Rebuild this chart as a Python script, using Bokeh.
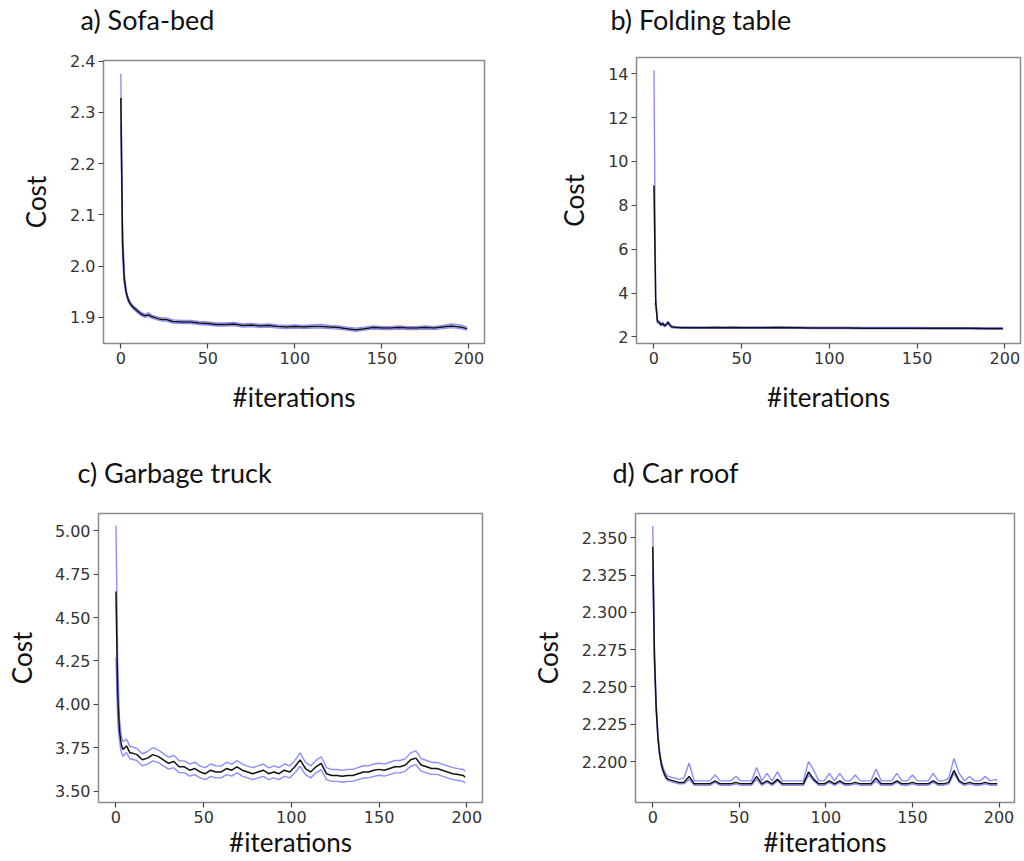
from bokeh.plotting import figure
from bokeh.models import Range1d, FixedTicker, NumeralTickFormatter
from bokeh.layouts import column, row
from bokeh.embed import file_html
from bokeh.resources import INLINE

# ---------------- data ----------------
titles = ["a) Sofa-bed", "b) Folding table", "c) Garbage truck", "d) Car roof"]
x_label = "#iterations"
y_label = "Cost"
x_ticks = [0, 50, 100, 150, 200]

# a) Sofa-bed
xa = [0, 1, 2, 3, 4, 5, 6, 7, 8, 9, 10,
      12, 14, 16, 18, 20, 22, 24, 26, 28, 30,
      35, 40, 45, 50, 55, 60, 65, 70, 75, 80,
      85, 90, 95, 100, 105, 110, 115, 120, 125, 130,
      135, 140, 145, 150, 155, 160, 165, 170, 175, 180,
      185, 190, 195, 199]
ma = [2.328, 2.045, 1.975, 1.950, 1.937, 1.929, 1.924, 1.920, 1.917, 1.914, 1.911,
      1.906, 1.903, 1.905, 1.901, 1.899, 1.897, 1.896, 1.896, 1.894, 1.892,
      1.891, 1.891, 1.889, 1.888, 1.886, 1.886, 1.887, 1.884, 1.885, 1.883,
      1.884, 1.882, 1.881, 1.882, 1.881, 1.882, 1.882, 1.881, 1.880, 1.878,
      1.876, 1.878, 1.880, 1.879, 1.879, 1.880, 1.879, 1.879, 1.880, 1.879,
      1.881, 1.883, 1.881, 1.878]
sa_hi = [0.047, 0.030, 0.012, 0.006, 0.004, 0.004, 0.003, 0.003, 0.003, 0.003, 0.003,
         0.003, 0.003, 0.004, 0.003, 0.003, 0.003, 0.003, 0.003, 0.003, 0.003,
         0.003, 0.003, 0.003, 0.003, 0.003, 0.003, 0.003, 0.003, 0.003, 0.003,
         0.003, 0.003, 0.003, 0.003, 0.003, 0.003, 0.004, 0.003, 0.003, 0.003,
         0.003, 0.003, 0.003, 0.003, 0.003, 0.003, 0.003, 0.003, 0.003, 0.003,
         0.003, 0.004, 0.004, 0.003]
sa_lo = [0.050, 0.030, 0.010, 0.005, 0.004, 0.003, 0.003, 0.003, 0.003, 0.003, 0.003,
         0.003, 0.003, 0.003, 0.003, 0.003, 0.003, 0.003, 0.003, 0.003, 0.003,
         0.003, 0.003, 0.003, 0.003, 0.003, 0.003, 0.003, 0.003, 0.003, 0.003,
         0.003, 0.003, 0.003, 0.003, 0.003, 0.003, 0.003, 0.003, 0.003, 0.003,
         0.003, 0.003, 0.003, 0.003, 0.003, 0.003, 0.003, 0.003, 0.003, 0.003,
         0.003, 0.003, 0.003, 0.003]

# b) Folding table
xb = [0, 1, 2, 3, 4, 5, 6, 7, 8, 9, 10,
      12, 14, 16, 18, 20,
      25, 30, 35, 40, 45, 50,
      60, 70, 80, 90, 100, 110, 120, 130, 140, 150, 160, 170, 180, 190,
      199]
mb = [8.90, 3.60, 2.70, 2.66, 2.55, 2.62, 2.50, 2.56, 2.66, 2.55, 2.46,
      2.44, 2.43, 2.42, 2.42, 2.42,
      2.42, 2.42, 2.43, 2.42, 2.43, 2.42,
      2.42, 2.43, 2.42, 2.41, 2.41, 2.41, 2.40, 2.40, 2.40, 2.40, 2.39, 2.39, 2.39, 2.38,
      2.38]
sb_hi = [5.25, 0.12, 0.08, 0.06, 0.06, 0.05, 0.05, 0.05, 0.06, 0.05, 0.04,
         0.03, 0.03, 0.03, 0.03, 0.03,
         0.03, 0.03, 0.03, 0.03, 0.03, 0.03,
         0.03, 0.03, 0.03, 0.03, 0.03, 0.03, 0.03, 0.03, 0.03, 0.03, 0.03, 0.03, 0.03, 0.03,
         0.03]
sb_lo = [5.40, 0.10, 0.06, 0.05, 0.05, 0.05, 0.04, 0.04, 0.05, 0.04, 0.04,
         0.03, 0.03, 0.03, 0.03, 0.03,
         0.03, 0.03, 0.03, 0.03, 0.03, 0.03,
         0.03, 0.03, 0.03, 0.03, 0.03, 0.03, 0.03, 0.03, 0.03, 0.03, 0.03, 0.03, 0.03, 0.03,
         0.03]

# c) Garbage truck and d) Car roof share the iteration sampling
xcd = [0, 1, 2, 3, 4, 5, 6, 7, 8, 9,
       12, 15, 18, 21, 24, 27, 30, 33, 36, 39,
       42, 45, 48, 51, 54, 57, 60, 63, 66, 69,
       72, 75, 78, 81, 84, 87, 90, 93, 96, 99,
       102, 105, 108, 111, 114, 117, 120, 123, 126, 129,
       132, 135, 138, 141, 144, 147, 150, 153, 156, 159,
       162, 165, 168, 171, 174, 177, 180, 183, 186, 189,
       192, 195, 198, 199]
mc = [4.650, 4.050, 3.850, 3.770, 3.740, 3.750, 3.760, 3.740, 3.720, 3.720,
      3.710, 3.680, 3.690, 3.710, 3.700, 3.680, 3.660, 3.670, 3.640, 3.640,
      3.620, 3.630, 3.610, 3.600, 3.620, 3.610, 3.610, 3.630, 3.620, 3.640,
      3.620, 3.610, 3.600, 3.610, 3.620, 3.600, 3.610, 3.600, 3.620, 3.610,
      3.640, 3.680, 3.630, 3.610, 3.640, 3.660, 3.600, 3.590, 3.590, 3.585,
      3.590, 3.590, 3.600, 3.610, 3.610, 3.620, 3.625, 3.620, 3.630, 3.640,
      3.640, 3.650, 3.680, 3.690, 3.650, 3.640, 3.630, 3.630, 3.620, 3.610,
      3.600, 3.595, 3.590, 3.580]
sc_hi = [0.380, 0.200, 0.070, 0.050, 0.045, 0.040, 0.040, 0.038, 0.036, 0.036,
         0.035, 0.035, 0.038, 0.040, 0.038, 0.036, 0.035, 0.036, 0.035, 0.034,
         0.035, 0.036, 0.034, 0.035, 0.036, 0.035, 0.034, 0.036, 0.035, 0.036,
         0.035, 0.034, 0.035, 0.035, 0.036, 0.034, 0.035, 0.035, 0.036, 0.035,
         0.037, 0.040, 0.036, 0.035, 0.037, 0.038, 0.035, 0.034, 0.034, 0.034,
         0.035, 0.035, 0.035, 0.036, 0.035, 0.036, 0.035, 0.035, 0.036, 0.036,
         0.036, 0.037, 0.040, 0.042, 0.037, 0.036, 0.035, 0.035, 0.035, 0.035,
         0.035, 0.034, 0.034, 0.034]
sc_lo = [0.380, 0.150, 0.060, 0.045, 0.040, 0.038, 0.038, 0.036, 0.035, 0.035,
         0.035, 0.034, 0.035, 0.036, 0.035, 0.035, 0.034, 0.035, 0.034, 0.034,
         0.034, 0.035, 0.034, 0.034, 0.035, 0.034, 0.034, 0.035, 0.034, 0.035,
         0.034, 0.034, 0.034, 0.034, 0.035, 0.034, 0.034, 0.034, 0.035, 0.034,
         0.035, 0.037, 0.035, 0.034, 0.035, 0.036, 0.034, 0.034, 0.034, 0.034,
         0.034, 0.034, 0.034, 0.035, 0.034, 0.035, 0.034, 0.034, 0.035, 0.035,
         0.035, 0.035, 0.037, 0.038, 0.035, 0.035, 0.034, 0.034, 0.034, 0.034,
         0.034, 0.034, 0.034, 0.034]

md = [2.344, 2.270, 2.236, 2.216, 2.205, 2.198, 2.194, 2.191, 2.189, 2.188,
      2.187, 2.186, 2.186, 2.190, 2.185, 2.185, 2.185, 2.185, 2.187, 2.185,
      2.185, 2.185, 2.186, 2.185, 2.185, 2.185, 2.190, 2.185, 2.187, 2.185,
      2.188, 2.185, 2.185, 2.185, 2.185, 2.185, 2.193, 2.188, 2.185, 2.185,
      2.187, 2.185, 2.187, 2.185, 2.185, 2.186, 2.185, 2.185, 2.185, 2.189,
      2.185, 2.185, 2.185, 2.187, 2.185, 2.185, 2.186, 2.185, 2.185, 2.185,
      2.187, 2.185, 2.185, 2.186, 2.194, 2.187, 2.185, 2.186, 2.185, 2.185,
      2.186, 2.185, 2.185, 2.185]
sd_hi = [0.014, 0.006, 0.004, 0.003, 0.002, 0.002, 0.002, 0.002, 0.002, 0.002,
         0.002, 0.002, 0.003, 0.009, 0.002, 0.002, 0.002, 0.002, 0.004, 0.002,
         0.002, 0.002, 0.004, 0.002, 0.002, 0.002, 0.006, 0.002, 0.005, 0.002,
         0.005, 0.002, 0.002, 0.002, 0.002, 0.002, 0.007, 0.006, 0.002, 0.002,
         0.005, 0.002, 0.005, 0.002, 0.002, 0.005, 0.002, 0.002, 0.002, 0.006,
         0.002, 0.002, 0.002, 0.005, 0.002, 0.002, 0.005, 0.002, 0.002, 0.002,
         0.005, 0.002, 0.002, 0.003, 0.008, 0.005, 0.002, 0.004, 0.002, 0.002,
         0.004, 0.002, 0.003, 0.002]
sd_lo = [0.015, 0.004, 0.002, 0.001, 0.001, 0.001, 0.001, 0.001, 0.001, 0.001,
         0.001, 0.001, 0.001, 0.002, 0.001, 0.001, 0.001, 0.001, 0.001, 0.001,
         0.001, 0.001, 0.001, 0.001, 0.001, 0.001, 0.002, 0.001, 0.001, 0.001,
         0.001, 0.001, 0.001, 0.001, 0.001, 0.001, 0.002, 0.001, 0.001, 0.001,
         0.001, 0.001, 0.001, 0.001, 0.001, 0.001, 0.001, 0.001, 0.001, 0.002,
         0.001, 0.001, 0.001, 0.001, 0.001, 0.001, 0.001, 0.001, 0.001, 0.001,
         0.001, 0.001, 0.001, 0.001, 0.002, 0.001, 0.001, 0.001, 0.001, 0.001,
         0.001, 0.001, 0.001, 0.001]

ya_ticks = [1.9, 2.0, 2.1, 2.2, 2.3, 2.4]
yb_ticks = [2, 4, 6, 8, 10, 12, 14]
yc_ticks = [3.50, 3.75, 4.00, 4.25, 4.50, 4.75, 5.00]
yd_ticks = [2.200, 2.225, 2.250, 2.275, 2.300, 2.325, 2.350]

MEAN_COLOR = "#111111"
BAND_COLOR = "#8c8cff"
TICK_FONT = "DejaVu Sans"
LABEL_FONT = "Lato"


def title_fig(text, w, h, offset, top):
    # a thin strip whose Title sits just above its (invisible) frame;
    # the strip's frame is aligned with the plot frame below it
    t = figure(width=w, height=h, output_backend="svg", toolbar_location=None,
               x_range=Range1d(0, 1), y_range=Range1d(0, 1),
               x_axis_location=None, y_axis_location=None,
               min_border_left=0, min_border_right=0,
               min_border_top=top, min_border_bottom=0, title=text)
    t.grid.visible = False
    t.outline_line_color = None
    t.background_fill_color = "white"
    t.border_fill_color = "white"
    t.title.align = "left"
    t.title.offset = offset
    t.title.standoff = 0
    t.title.text_font = LABEL_FONT
    t.title.text_font_size = "27px"
    t.title.text_font_style = "normal"
    t.title.text_color = "#111111"
    return t


def panel(w, h, borders, xr, yr, yticks, yfmt, x, m, s_hi, s_lo,
          ylab_stand, xlab_stand):
    bl, br, bt, bb = borders
    p = figure(width=w, height=h, output_backend="svg", toolbar_location=None,
               x_range=Range1d(*xr), y_range=Range1d(*yr),
               min_border_left=bl, min_border_right=br,
               min_border_top=bt, min_border_bottom=bb)
    p.background_fill_color = "white"
    p.border_fill_color = "white"
    p.outline_line_color = "#8a8a8a"
    p.outline_line_width = 1.5
    p.grid.visible = False

    up = [a + b for a, b in zip(m, s_hi)]
    lo = [a - b for a, b in zip(m, s_lo)]
    p.line(x, up, line_color=BAND_COLOR, line_width=1.4)
    p.line(x, lo, line_color=BAND_COLOR, line_width=1.4)
    p.line(x, m, line_color=MEAN_COLOR, line_width=1.5)

    for ax in (p.xaxis[0], p.yaxis[0]):
        ax.axis_line_color = None
        ax.major_tick_line_color = "#444444"
        ax.major_tick_line_width = 1.2
        ax.major_tick_out = 5
        ax.major_tick_in = 0
        ax.minor_tick_line_color = None
        ax.major_label_text_font = TICK_FONT
        ax.major_label_text_font_size = "16px"
        ax.major_label_text_color = "#333333"
        ax.major_label_standoff = 3
        ax.axis_label_text_font = LABEL_FONT
        ax.axis_label_text_font_size = "26px"
        ax.axis_label_text_font_style = "normal"
        ax.axis_label_text_color = "#111111"

    p.xaxis.ticker = FixedTicker(ticks=x_ticks)
    p.xaxis.formatter = NumeralTickFormatter(format="0")
    p.xaxis.axis_label = x_label
    p.xaxis.axis_label_standoff = xlab_stand

    p.yaxis.ticker = FixedTicker(ticks=yticks)
    p.yaxis.formatter = NumeralTickFormatter(format=yfmt)
    p.yaxis.axis_label = y_label
    p.yaxis.axis_label_standoff = ylab_stand
    return p


XR = (-9.95, 208.95)
WL, WR = 528, 495

ta = title_fig(titles[0], WL, 40, -23, 35)
pa = panel(WL, 390, (103, 44, 20, 87), XR, (1.849, 2.401),
           ya_ticks, "0.0", xa, ma, sa_hi, sa_lo, 15, 14)
tb = title_fig(titles[1], WR, 40, -26, 35)
pb = panel(WR, 390, (108, 3, 17, 87), XR, (1.70, 14.74),
           yb_ticks, "0", xb, mb, sb_hi, sb_lo, 15, 14)
tc = title_fig(titles[2], WL, 60, -21, 58)
pc = panel(WL, 370, (98, 46, 23, 58), XR, (3.434, 5.1004),
           yc_ticks, "0.00", xcd, mc, sc_hi, sc_lo, 14, 0)
td = title_fig(titles[3], WR, 60, -23, 58)
pd = panel(WR, 370, (106, 9, 23, 58), XR, (2.1725, 2.3664),
           yd_ticks, "0.000", xcd, md, sd_hi, sd_lo, 15, 0)

layout = column(row(column(ta, pa), column(tb, pb)),
                row(column(tc, pc), column(td, pd)))

open("out.html", "w").write(file_html(layout, INLINE))
